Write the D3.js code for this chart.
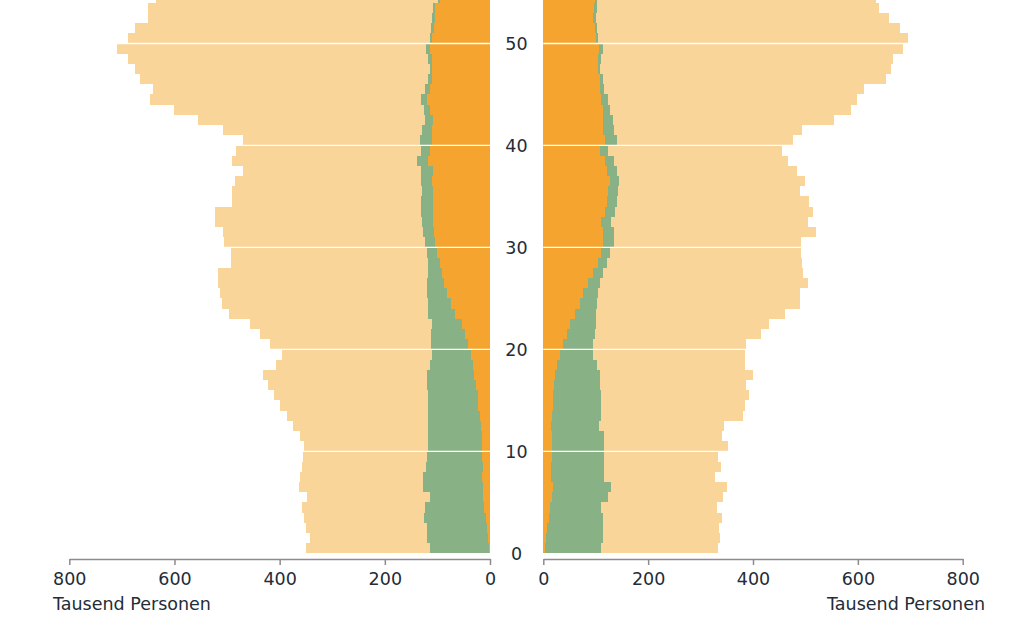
<!DOCTYPE html>
<html><head><meta charset="utf-8">
<script src="https://cdn.jsdelivr.net/npm/d3@7"></script>
<style>
body{margin:0;background:#fff}
svg{display:block}
text{font-family:"DejaVu Sans",sans-serif;fill:#232c38}
</style>
</head><body>
<svg id="chart" width="1024" height="636"></svg>
<script>
// ages 0..54 (upper ages are cut off in the reference)
const ages = d3.range(0, 55);
const ageTicks = [0, 10, 20, 30, 40, 50];
const valueTicks = [0, 200, 400, 600, 800];
const axisTitle = "Tausend Personen";
const seriesKeys = ["orange", "green", "beige"];
const seriesColors = {orange: "#f5a42f", green: "#88b286", beige: "#fad59a"};

// left half (thousand persons), ages 0..54
const leftOrange = [1,3,6,8,11,13,13,15,14,15, 15,16,18,19,22,23,27,30,33,37, 41,48,54,67,75,81,87,92,95,100, 105,106,108,108,108,108,111,108,117,114, 111,111,108,114,120,114,111,110,111,114, 111,106,105,105,95];
const leftGreen  = [113,117,114,117,113,101,115,112,108,105, 103,101,100,99,96,95,92,89,81,73, 72,65,57,50,42,39,33,26,22,20, 19,21,22,24,24,21,21,24,22,18, 23,19,16,11,12,10,7,5,6,8, 3,6,5,3,4];
const leftBeige  = [236,222,230,229,234,234,236,234,235,236, 236,244,257,268,281,293,303,312,292,286, 306,324,345,379,393,393,397,399,375,373, 382,380,392,391,358,362,352,337,352,351, 335,377,431,476,514,517,548,560,571,588, 575,563,540,542,536];

// right half (thousand persons), ages 0..54
const rightOrange = [3,6,8,11,13,16,18,15,15,16, 16,16,15,16,18,19,20,22,26,31, 38,45,51,60,70,76,86,94,105,111, 114,114,111,118,121,124,127,122,118,108, 118,114,114,113,111,108,108,104,105,107, 101,99,95,97,99];
const rightGreen  = [108,107,105,102,98,108,111,100,100,99, 100,100,92,95,93,91,89,86,76,64, 57,54,49,40,32,29,22,20,16,16, 20,20,19,19,19,18,17,18,17,16, 22,21,18,14,13,8,6,4,5,7, 3,3,5,5,3];
const rightBeige  = [223,224,222,228,221,219,222,213,224,219, 237,225,238,269,274,282,278,292,283,290, 292,316,331,361,387,384,396,382,372,364, 357,386,374,377,367,347,356,343,331,332, 336,359,423,460,475,496,539,556,558,573, 591,578,559,538,533];

const svg = d3.select("#chart");

const y = d3.scaleLinear().domain([0, 55]).range([553.3, -7.5]);
const xL = d3.scaleLinear().domain([0, 800]).range([490, 69.3]);
const xR = d3.scaleLinear().domain([0, 800]).range([543.3, 962.7]);

function table(o, g, b) {
  return ages.map((a, i) => ({age: a, orange: o[i], green: g[i], beige: b[i]}));
}
const stack = d3.stack().keys(seriesKeys);
const leftStack = stack(table(leftOrange, leftGreen, leftBeige));
const rightStack = stack(table(rightOrange, rightGreen, rightBeige));

function drawSide(stacked, x, isLeft) {
  const g = svg.append("g").attr("shape-rendering", "crispEdges");
  stacked.forEach(layer => {
    g.append("g").attr("fill", seriesColors[layer.key])
      .selectAll("rect").data(layer).join("rect")
      .attr("x", d => isLeft ? x(d[1]) : x(d[0]))
      .attr("width", d => Math.abs(x(d[1]) - x(d[0])))
      .attr("y", d => y(d.data.age + 1))
      .attr("height", d => y(d.data.age) - y(d.data.age + 1));
  });
  // white grid lines over bars
  svg.append("g").selectAll("line").data(ageTicks.filter(t => t > 0)).join("line")
    .attr("x1", x.range()[0]).attr("x2", x.range()[1])
    .attr("y1", d => y(d)).attr("y2", d => y(d))
    .attr("stroke", "#fff").attr("stroke-width", 1.3);
}
drawSide(leftStack, xL, true);
drawSide(rightStack, xR, false);

// x axes
function drawAxis(x) {
  const ax = svg.append("g").attr("transform", "translate(0,559)")
    .call(d3.axisBottom(x).tickValues(valueTicks).tickSize(6).tickSizeOuter(0).tickPadding(8));
  ax.select(".domain").attr("stroke", "#8c8c8c").attr("stroke-width", 1.5);
  ax.selectAll(".tick line").attr("stroke", "#8c8c8c").attr("stroke-width", 1.5);
  ax.selectAll(".tick text").attr("font-size", 17.5).attr("font-family", "DejaVu Sans").attr("fill", "#232c38");
}
drawAxis(xL);
drawAxis(xR);

svg.append("text").attr("x", 53).attr("y", 609.5).attr("font-size", 17.5).text(axisTitle);
svg.append("text").attr("x", 985).attr("y", 609.5).attr("font-size", 17.5)
  .attr("text-anchor", "end").text(axisTitle);

// age labels in the middle
svg.append("g").selectAll("text").data(ageTicks).join("text")
  .attr("x", 516.5).attr("y", d => y(d)).attr("dy", "0.36em")
  .attr("text-anchor", "middle").attr("font-size", 17.5)
  .text(d => d);
</script>
</body></html>
